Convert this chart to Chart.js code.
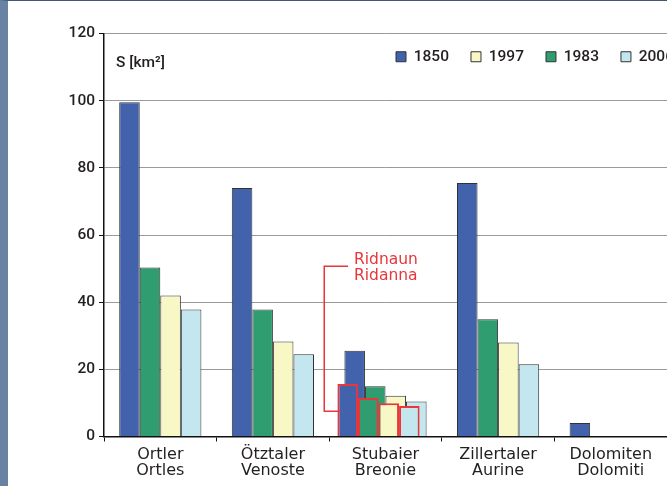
<!DOCTYPE html>
<html>
<head>
<meta charset="utf-8">
<script src="https://cdn.jsdelivr.net/npm/chart.js@4.4.1/dist/chart.umd.min.js"></script>
<style>
  html, body { margin: 0; padding: 0; background: #fff; }
  .frame { width: 667px; height: 486px; box-sizing: border-box; border-left: 8px solid #6782a3; border-top: 1px solid #3f5878; overflow: hidden; }
  canvas { display: block; }
</style>
</head>
<body>
<div class="frame"><canvas id="glaciers" width="659" height="485"></canvas></div>
<script>
// glacier area per group (km2)
const groups = [['Ortler', 'Ortles'], ['Ötztaler', 'Venoste'], ['Stubaier', 'Breonie'], ['Zillertaler', 'Aurine'], ['Dolomiten', 'Dolomiti']];
const years = ['1850', '1983', '1997', '2006'];
const legendOrder = ['1850', '1997', '1983', '2006'];
const area1850 = [99.5, 74, 25.5, 75.5, 4];
const area1983 = [50.3, 37.8, 15, 34.9, null];
const area1997 = [42, 28.3, 12.1, 28, null];
const area2006 = [37.8, 24.5, 10.4, 21.5, null];
// Ridnaun/Ridanna, part of the Stubaier group
const ridnaun = [15.6, 11.5, 9.9, 9.1];
const ridnaunGroup = 2;
const calloutText = ['Ridnaun', 'Ridanna'];
const calloutPath = [[1.6, 7.5], [1.456, 7.5], [1.456, 50.7], [1.668, 50.7]];
const calloutTextAt = [1.72, 51.4];
const yMax = 120;
const yStep = 20;

const fills = ['#4262ab', '#2f9d70', '#f8f8c6', '#c3e6ef'];
const series = [area1850, area1983, area1997, area2006];
const ink = '#231f20';
const red = '#e8363a';
const calloutShift = -7;

// same stack id per year puts the Ridnaun bar in the same slot as its year
const datasets = series.map((vals, i) => ({
  label: years[i],
  data: vals,
  stack: 'y' + i,
  backgroundColor: fills[i],
  borderColor: '#333',
  borderWidth: 1
}));
years.forEach((y, i) => {
  datasets.push({
    label: 'Ridnaun ' + y,
    callout: true,
    data: groups.map((g, k) => k === ridnaunGroup ? ridnaun[i] : null),
    stack: 'y' + i,
    backgroundColor: fills[i],
    borderColor: red,
    borderWidth: 2,
    order: -1
  });
});

const layoutTweaks = {
  id: 'layoutTweaks',
  afterLayout(chart) {
    // legend inside the plot, top right
    const lg = chart.legend;
    lg.left = 366;
    lg.width = 420;
    lg.right = lg.left + lg.width;
    lg.top = 26;
    lg.height = 60;
    lg.bottom = lg.top + lg.height;
  },
  beforeDatasetDraw(chart, args) {
    // sub-glacier bars sit slightly left of the group
    if (chart.data.datasets[args.index].callout) {
      chart.ctx.save();
      chart.ctx.translate(calloutShift, 0);
    }
  },
  afterDatasetDraw(chart, args) {
    if (chart.data.datasets[args.index].callout) chart.ctx.restore();
  },
  afterDatasetsDraw(chart) {
    const { ctx, chartArea, scales: { x, y } } = chart;
    ctx.save();
    ctx.fillStyle = ink;
    ctx.font = '500 15.5px Roboto';
    ctx.textBaseline = 'middle';
    ctx.fillText('S [km²]', chartArea.left + 12, 62);

    ctx.strokeStyle = red;
    ctx.lineWidth = 1.5;
    ctx.beginPath();
    calloutPath.forEach(([cx, cy], i) => {
      const px = x.getPixelForValue(cx), py = y.getPixelForValue(cy);
      if (i === 0) ctx.moveTo(px, py); else ctx.lineTo(px, py);
    });
    ctx.stroke();
    ctx.fillStyle = red;
    ctx.font = '15.5px "DejaVu Sans"';
    ctx.textBaseline = 'alphabetic';
    const tx = x.getPixelForValue(calloutTextAt[0]);
    const ty = y.getPixelForValue(calloutTextAt[1]);
    calloutText.forEach((t, i) => ctx.fillText(t, tx, ty + i * 16));
    ctx.restore();
  }
};

new Chart(document.getElementById('glaciers'), {
  type: 'bar',
  data: { labels: groups, datasets },
  options: {
    responsive: false,
    animation: false,
    events: [],
    datasets: { bar: { barPercentage: 1, categoryPercentage: 0.73 } },
    layout: { padding: { top: 12.5, right: -2, left: 0, bottom: 0 } },
    plugins: {
      tooltip: { enabled: false },
      legend: {
        position: 'top',
        align: 'start',
        maxHeight: 20,
        labels: {
          boxWidth: 10,
          boxHeight: 10,
          padding: 22,
          color: ink,
          font: { family: 'Roboto', size: 15.5, weight: 500 },
          filter: (item, data) => !data.datasets[item.datasetIndex].callout,
          sort: (a, b) => legendOrder.indexOf(a.text) - legendOrder.indexOf(b.text)
        }
      }
    },
    scales: {
      x: {
        type: 'category',
        offset: true,
        stacked: true,
        border: { color: '#111', width: 1.5 },
        grid: { display: true, drawOnChartArea: false, offset: true, tickLength: 5, color: '#111' },
        ticks: { color: ink, padding: 6, font: { family: 'DejaVu Sans', size: 16, lineHeight: 0.97 } },
        afterFit: (s) => { s.height = 49.5; }
      },
      y: {
        min: 0,
        max: yMax,
        stacked: false,
        border: { color: '#111', width: 1.5 },
        grid: { color: '#9a9a9a', lineWidth: 1, tickLength: 5, tickColor: '#111' },
        ticks: { stepSize: yStep, color: ink, padding: 4, font: { family: 'Roboto', size: 15.5, weight: 500 } },
        afterFit: (s) => { s.width = 96; }
      }
    }
  },
  plugins: [layoutTweaks]
});
</script>
</body>
</html>
